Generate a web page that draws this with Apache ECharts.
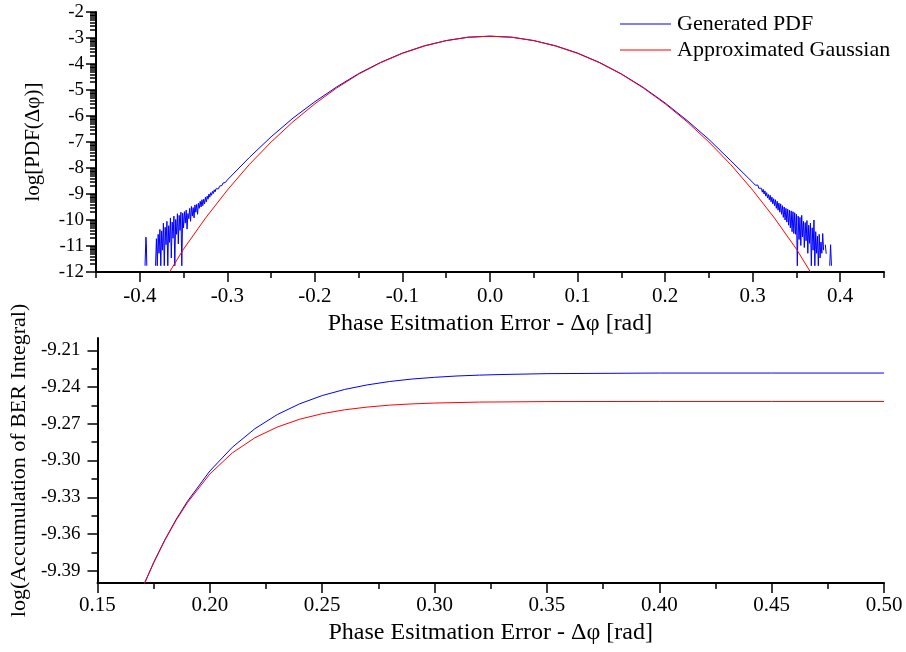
<!DOCTYPE html>
<html>
<head>
<meta charset="utf-8">
<script src="https://cdn.jsdelivr.net/npm/echarts@6/dist/echarts.min.js"></script>
<style>
  html, body { margin: 0; padding: 0; background: #fff; }
  #main { width: 906px; height: 652px; }
</style>
</head>
<body>
<div id="main"></div>
<script>
// top panel: log10 pdf of phase error (null = empty bin)
var pdfLeftX = [
  -0.394, -0.393, -0.3925, -0.392, -0.391, -0.386, -0.382, -0.381, -0.380, -0.379, -0.378, -0.377, -0.376, -0.375,
  -0.374, -0.373, -0.372, -0.371, -0.370, -0.369, -0.368, -0.367, -0.366, -0.365, -0.364, -0.363,
  -0.362, -0.361, -0.360, -0.359, -0.358, -0.357, -0.356, -0.355, -0.354, -0.353, -0.352, -0.351,
  -0.350, -0.349, -0.348, -0.347, -0.346, -0.345, -0.344, -0.343, -0.342, -0.341, -0.340, -0.339, -0.338,
  -0.337, -0.336, -0.335, -0.334, -0.333, -0.332, -0.331, -0.330, -0.329, -0.328, -0.327, -0.326, -0.325,
  -0.324, -0.323, -0.322, -0.321, -0.320, -0.319, -0.318, -0.317, -0.316, -0.315, -0.314, -0.313, -0.312,
  -0.311, -0.310, -0.309, -0.308, -0.307, -0.306, -0.305, -0.304, -0.303, -0.302, -0.301
];
var pdfLeftY = [
  -11.76, -10.66, -10.90, -11.76, null, null, -11.76, -10.72, -11.76, -10.55, -11.28, -10.36, -11.76, -10.42,
  -11.16, -10.12, -11.76, -10.28, -10.95, -10.05, -11.76, -10.22, -10.86, -9.92, -11.46, -10.08,
  -10.70, -9.85, -11.76, -9.98, -10.55, -9.76, -10.92, -9.82, -10.40, -9.70, -11.76, -9.74,
  -10.30, -9.68, -10.12, -9.62, -10.35, -9.75, -9.95, -9.55, -10.05, -9.48, -9.85, -9.52, -9.92,
  -9.42, -9.70, -9.40, -9.78, -9.35, -9.55, -9.28, -9.50, -9.22, -9.45, -9.20, -9.38, -9.12,
  -9.30, -9.08, -9.20, -9.00, -9.12, -8.95, -9.05, -8.90, -8.98, -8.84, -8.92, -8.80, -8.84,
  -8.74, -8.80, -8.70, -8.72, -8.64, -8.67, -8.58, -8.60, -8.54, -8.55, -8.49
];
var pdfCoreX = [-0.300, -0.275, -0.25, -0.225, -0.2, -0.175, -0.15, -0.125, -0.1, -0.075, -0.05, -0.025, 0,
  0.025, 0.05, 0.075, 0.1, 0.125, 0.15, 0.175, 0.2, 0.225, 0.25, 0.275];
var pdfCoreY = [-8.46, -7.60, -6.80, -6.08, -5.45, -4.88, -4.37, -3.94, -3.58, -3.30, -3.10, -2.97, -2.93,
  -2.97, -3.10, -3.30, -3.58, -3.94, -4.38, -4.90, -5.50, -6.17, -6.90, -7.72];
var pdfRightX = [
  0.300, 0.301, 0.302, 0.303, 0.304, 0.305, 0.306, 0.307, 0.308, 0.309, 0.310, 0.311, 0.312,
  0.313, 0.314, 0.315, 0.316, 0.317, 0.318, 0.319, 0.320, 0.321, 0.322, 0.323, 0.324, 0.325,
  0.326, 0.327, 0.328, 0.329, 0.330, 0.331, 0.332, 0.333, 0.334, 0.335, 0.336, 0.337, 0.338,
  0.339, 0.340, 0.341, 0.342, 0.343, 0.344, 0.345, 0.346, 0.347, 0.348,
  0.349, 0.350, 0.351, 0.352, 0.353, 0.354, 0.355, 0.356, 0.357, 0.358, 0.359, 0.360, 0.361,
  0.362, 0.363, 0.364, 0.365, 0.366, 0.367, 0.368, 0.369, 0.370, 0.371, 0.372, 0.373, 0.374,
  0.375, 0.376, 0.377, 0.378, 0.379, 0.380, 0.381, 0.382, 0.383, 0.384, 0.385, 0.388, 0.389, 0.390
];
var pdfRightY = [
  -8.55, -8.60, -8.58, -8.66, -8.62, -8.72, -8.66, -8.78, -8.72, -8.85, -8.78, -8.93, -8.82,
  -9.00, -8.88, -9.08, -8.95, -9.15, -9.02, -9.22, -9.05, -9.30, -9.12, -9.38, -9.18, -9.45,
  -9.22, -9.55, -9.28, -9.62, -9.35, -9.70, -9.38, -9.78, -9.45, -9.90, -9.50, -10.00, -9.55,
  -10.08, -9.58, -10.20, -9.62, -10.30, -9.65, -10.45, -9.68, -10.52, -9.72,
  -10.55, -9.78, -11.76, -9.85, -10.75, -9.90, -10.98, -9.82, -10.65, -10.05, -11.06, -10.10, -10.80,
  -10.02, -11.28, -10.20, -10.90, -10.12, -11.76, -10.30, -11.16, -10.00, -11.76, -10.45, -11.28, -10.62,
  -11.76, -10.55, -11.46, -10.85, -11.28, -10.52, -11.16, null, -10.95, -11.30, null, -11.76, -10.95, -11.76
];
var gaussX = [-0.366, -0.35, -0.325, -0.3, -0.275, -0.25, -0.225, -0.2, -0.175, -0.15, -0.125, -0.1, -0.075, -0.05, -0.025, 0,
  0.025, 0.05, 0.075, 0.1, 0.125, 0.15, 0.175, 0.2, 0.225, 0.25, 0.275, 0.3, 0.325, 0.35, 0.366];
var gaussY = [-12.0, -11.12, -9.93, -8.85, -7.87, -7.00, -6.22, -5.53, -4.92, -4.39, -3.95, -3.59, -3.31, -3.10, -2.97, -2.93,
  -2.97, -3.10, -3.31, -3.59, -3.95, -4.39, -4.92, -5.53, -6.22, -7.00, -7.87, -8.85, -9.93, -11.12, -12.0];

// bottom panel: accumulated BER integral
var berX = [0.170, 0.175, 0.180, 0.185, 0.190, 0.200, 0.210, 0.220, 0.230, 0.240, 0.250, 0.260, 0.270, 0.280, 0.290, 0.300, 0.310, 0.320, 0.330, 0.350, 0.400, 0.450, 0.500];
var berPdf = [-9.4041, -9.3833, -9.3647, -9.3481, -9.3334, -9.3086, -9.2892, -9.2741, -9.2625, -9.2537, -9.2470, -9.2420, -9.2383, -9.2355, -9.2335, -9.2321, -9.2310, -9.2303, -9.2298, -9.2291, -9.2286, -9.2286, -9.2286];
var berGauss = [-9.4041, -9.3835, -9.3650, -9.3487, -9.3345, -9.3110, -9.2938, -9.2815, -9.2727, -9.2663, -9.2618, -9.2586, -9.2564, -9.2548, -9.2538, -9.2531, -9.2527, -9.2523, -9.2522, -9.2519, -9.2518, -9.2518, -9.2518];

// tick labels
var topXLabels = [-0.4, -0.3, -0.2, -0.1, 0, 0.1, 0.2, 0.3, 0.4];
var topXMinor = [-0.45, -0.35, -0.25, -0.15, -0.05, 0.05, 0.15, 0.25, 0.35, 0.45];
var botYLabels = [-9.39, -9.36, -9.33, -9.30, -9.27, -9.24, -9.21];
var botYMinor = [-9.375, -9.345, -9.315, -9.285, -9.255, -9.225];

// log-style minor ticks between the integer decades
var topYMinor = [];
for (var n = -12; n < -2; n++) {
  for (var k = 2; k <= 9; k++) topYMinor.push(n + Math.log10(k));
}

function pairs(xs, ys) {
  return xs.map(function (x, i) { return [x, ys[i]]; });
}

var FONT = 'Liberation Serif';
var axisLine = { show: true, onZero: false, lineStyle: { color: '#000', width: 2 } };
var noLine = { show: false, onZero: false };
var tickStyle = { color: '#000', width: 1.5 };
function textStyle(size, extra) {
  return Object.assign({ color: '#000', fontFamily: FONT, fontSize: size }, extra);
}

var pdfData = pairs(pdfLeftX, pdfLeftY).concat(pairs(pdfCoreX, pdfCoreY), pairs(pdfRightX, pdfRightY));

var myChart = echarts.init(document.getElementById('main'));
myChart.setOption({
  animation: false,
  backgroundColor: '#fff',
  textStyle: { fontFamily: FONT, color: '#000' },
  grid: [
    { left: 96, right: 22, top: 12, height: 260 },
    { left: 96, right: 22, top: 338, height: 245 }
  ],
  legend: {
    left: 620,
    top: 13,
    padding: 0,
    orient: 'vertical',
    itemWidth: 51,
    itemHeight: 14,
    itemGap: 4,
    icon: 'path://M0,0 L51,0 L51,1 L0,1 Z',
    data: ['Generated PDF', 'Approximated Gaussian'],
    textStyle: textStyle(22, { padding: [0, 0, 0, 1] })
  },
  xAxis: [
    {
      type: 'value', gridIndex: 0, position: 'bottom', min: -0.45, max: 0.45,
      name: 'Phase Esitmation Error - Δφ [rad]', nameLocation: 'middle', nameGap: 40, nameTextStyle: textStyle(24),
      axisLine: axisLine,
      axisTick: { customValues: topXLabels, length: 10, lineStyle: tickStyle },
      axisLabel: textStyle(21, { customValues: topXLabels, margin: 14, formatter: function (v) { return v.toFixed(1); } }),
      splitLine: { show: false }
    },
    {
      type: 'value', gridIndex: 0, position: 'bottom', min: -0.45, max: 0.45,
      axisLine: noLine,
      axisTick: { customValues: topXMinor, length: 6, lineStyle: tickStyle },
      axisLabel: { show: false },
      splitLine: { show: false }
    },
    {
      type: 'value', gridIndex: 1, position: 'bottom', min: 0.15, max: 0.5, interval: 0.05,
      name: 'Phase Esitmation Error - Δφ [rad]', nameLocation: 'middle', nameGap: 38, nameTextStyle: textStyle(24),
      axisLine: axisLine,
      axisTick: { length: 10, lineStyle: tickStyle },
      minorTick: { show: true, splitNumber: 2, length: 6, lineStyle: tickStyle },
      axisLabel: textStyle(21, { margin: 12, showMinLabel: true, showMaxLabel: true, formatter: function (v) { return v.toFixed(2); } }),
      splitLine: { show: false },
      minorSplitLine: { show: false }
    }
  ],
  yAxis: [
    {
      type: 'value', gridIndex: 0, position: 'left', min: -12, max: -2, interval: 1,
      name: 'log[PDF(Δφ)]', nameLocation: 'middle', nameGap: 52, nameTextStyle: textStyle(21),
      axisLine: axisLine,
      axisTick: { length: 10, lineStyle: tickStyle },
      axisLabel: textStyle(19, { margin: 12 }),
      splitLine: { show: false }
    },
    {
      type: 'value', gridIndex: 0, position: 'left', min: -12, max: -2,
      axisLine: noLine,
      axisTick: { customValues: topYMinor, length: 6, lineStyle: tickStyle },
      axisLabel: { show: false },
      splitLine: { show: false }
    },
    {
      type: 'value', gridIndex: 1, position: 'left', min: -9.40, max: -9.20,
      name: 'log(Accumulation of BER Integral)', nameLocation: 'middle', nameGap: 51, nameTextStyle: textStyle(22),
      axisLine: axisLine,
      axisTick: { customValues: botYLabels, length: 10, lineStyle: tickStyle },
      axisLabel: textStyle(19, { customValues: botYLabels, margin: 17, formatter: function (v) { return v.toFixed(2); } }),
      splitLine: { show: false }
    },
    {
      type: 'value', gridIndex: 1, position: 'left', min: -9.40, max: -9.20,
      axisLine: noLine,
      axisTick: { customValues: botYMinor, length: 6, lineStyle: tickStyle },
      axisLabel: { show: false },
      splitLine: { show: false }
    }
  ],
  series: [
    {
      name: 'Generated PDF', type: 'line', xAxisIndex: 0, yAxisIndex: 0,
      data: pdfData, symbol: 'none', connectNulls: false,
      lineStyle: { color: '#0000ff', width: 1 }, itemStyle: { color: '#0000ff' }
    },
    {
      name: 'Approximated Gaussian', type: 'line', xAxisIndex: 0, yAxisIndex: 0,
      data: pairs(gaussX, gaussY), symbol: 'none',
      lineStyle: { color: '#ff0000', width: 1 }, itemStyle: { color: '#ff0000' }
    },
    {
      name: 'Generated PDF', type: 'line', xAxisIndex: 2, yAxisIndex: 2,
      data: pairs(berX, berPdf), symbol: 'none',
      lineStyle: { color: '#0000ff', width: 1 }, itemStyle: { color: '#0000ff' }
    },
    {
      name: 'Approximated Gaussian', type: 'line', xAxisIndex: 2, yAxisIndex: 2,
      data: pairs(berX, berGauss), symbol: 'none',
      lineStyle: { color: '#ff0000', width: 1 }, itemStyle: { color: '#ff0000' }
    }
  ]
});
</script>
</body>
</html>
